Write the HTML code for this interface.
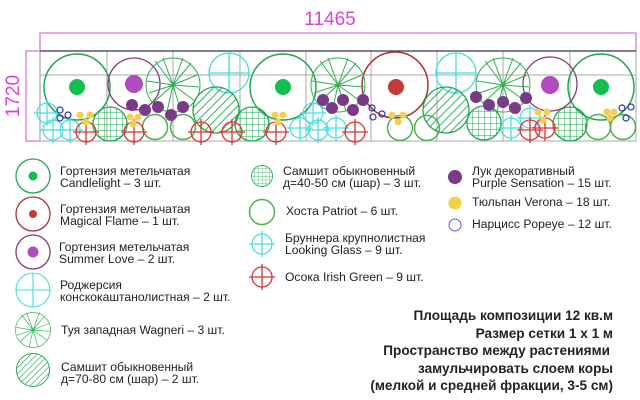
<!DOCTYPE html><html><head><meta charset="utf-8"><style>body{margin:0;background:#fff}svg{display:block}text{font-family:"Liberation Sans",sans-serif}</style></head><body>
<svg width="640" height="400" viewBox="0 0 640 400" xmlns="http://www.w3.org/2000/svg">
<defs>
<pattern id="h" width="6" height="6" patternUnits="userSpaceOnUse" patternTransform="rotate(45)"><line x1="0" y1="0" x2="0" y2="6" stroke="#1fa84f" stroke-width="1.8"/></pattern>
<pattern id="g" width="6" height="6" patternUnits="userSpaceOnUse"><path d="M0 0H6M0 0V6" stroke="#1fa84f" stroke-width="1" fill="none"/></pattern>
<g id="cl"><circle r="33" fill="none" stroke="#1fa84f" stroke-width="1.5"/><circle r="8" fill="#0fbf4f"/></g>
<g id="th" stroke="#2bb24c" stroke-width="1" fill="none"><circle r="27"/><path d="M0 0L-18-24M0 0L-10-27M0 0L10-27M0 0L18-22M0 0L-26 -4M0 0L26 2M0 0L-20 18M0 0L-6 27M0 0L8 26M0 0L22 16M0 0L-24 8M0 0L24 -10"/></g>
<g id="rg" stroke="#3fe0e0" stroke-width="1.3" fill="none"><circle r="20"/><path d="M-20 0H20M0-20V20"/></g>
<g id="bw"><circle r="23" fill="url(#h)" stroke="#1fa84f" stroke-width="1.3"/></g>
<g id="bg"><circle r="17" fill="url(#g)" stroke="#1fa84f" stroke-width="1.3"/></g>
<g id="br" stroke="#3fe0e0" stroke-width="1.2" fill="none"><circle r="10"/><path d="M-13 0H13M0-13V13"/></g>
<g id="os" stroke="#e03030" stroke-width="1.3" fill="none"><circle r="10"/><path d="M-13 0H13M0-13V13"/></g>
<g id="ho"><circle r="12.5" fill="none" stroke="#4cb34c" stroke-width="1.5"/></g>
<circle id="al" r="6" fill="#7a3a8a"/>
<circle id="tu" r="3.5" fill="#f4d04a"/>
<circle id="na" r="3" fill="none" stroke="#2233bb" stroke-width="1.2"/>
</defs>
<text x="330" y="25" font-size="19" fill="#e040d8" text-anchor="middle">11465</text>
<rect x="40" y="33" width="596" height="18" fill="none" stroke="#d66fd6" stroke-width="1.2"/>
<rect x="26" y="51" width="14" height="90" fill="none" stroke="#d66fd6" stroke-width="1.2"/>
<text transform="translate(19,96) rotate(-90)" font-size="19" fill="#e040d8" text-anchor="middle">1720</text>
<g stroke="#aaa" stroke-width="1" fill="none">
<rect x="40" y="51" width="596" height="90"/><path d="M40 75H636M107 51V141M173 51V141M240 51V141M306 51V141M371 51V141M437 51V141M503 51V141M570 51V141"/></g>
<line x1="40" y1="51" x2="636" y2="51" stroke="#444" stroke-width="1.3"/>
<use href="#cl" x="77" y="87"/><use href="#cl" x="283" y="87"/><use href="#cl" x="601" y="87"/>
<circle cx="395" cy="85" r="33" fill="none" stroke="#a33" stroke-width="1.5"/><circle cx="396" cy="87" r="8" fill="#c23a3a"/>
<circle cx="134" cy="84" r="26" fill="none" stroke="#8a3a7a" stroke-width="1.3"/><circle cx="134" cy="84" r="9" fill="#b04cc0"/>
<circle cx="550" cy="84" r="27" fill="none" stroke="#8a3a7a" stroke-width="1.3"/><circle cx="550" cy="85" r="9" fill="#b04cc0"/>
<use href="#th" x="173" y="85"/><use href="#th" x="338" y="85"/><use href="#th" x="503" y="85"/>
<use href="#rg" x="229" y="73"/><use href="#rg" x="456" y="73"/>
<use href="#bw" x="216" y="110"/><use href="#bw" x="446" y="110"/>
<use href="#bg" x="110" y="124"/><use href="#bg" x="252" y="124"/><use href="#bg" x="484" y="123"/><use href="#bg" x="570" y="124"/>
<use href="#ho" x="155" y="127"/><use href="#ho" x="183" y="127"/><use href="#ho" x="400" y="128"/><use href="#ho" x="427" y="128"/><use href="#ho" x="598" y="127"/><use href="#ho" x="623" y="127"/>
<use href="#br" x="47" y="113"/><use href="#br" x="53" y="130"/><use href="#br" x="70" y="130"/><use href="#br" x="313" y="113"/><use href="#br" x="318" y="130"/><use href="#br" x="336" y="128"/><use href="#br" x="511" y="128"/><use href="#br" x="300" y="128"/><use href="#br" x="530" y="118"/>
<use href="#al" x="132" y="105"/><use href="#al" x="145" y="110"/><use href="#al" x="158" y="107"/><use href="#al" x="171" y="115"/><use href="#al" x="183" y="107"/>
<use href="#al" x="323" y="100"/><use href="#al" x="332" y="108"/><use href="#al" x="343" y="100"/><use href="#al" x="353" y="110"/><use href="#al" x="363" y="100"/>
<use href="#al" x="476" y="97"/><use href="#al" x="489" y="105"/><use href="#al" x="503" y="102"/><use href="#al" x="515" y="108"/><use href="#al" x="526" y="98"/>
<use href="#os" x="86" y="132"/><use href="#os" x="134" y="132"/><use href="#os" x="201" y="132"/><use href="#os" x="232" y="132"/><use href="#os" x="276" y="132"/><use href="#os" x="355" y="132"/><use href="#os" x="530" y="130"/><use href="#os" x="545" y="128"/>
<use href="#tu" x="80" y="115"/><use href="#tu" x="90" y="115"/><use href="#tu" x="86" y="122"/><use href="#tu" x="130" y="117"/><use href="#tu" x="138" y="117"/><use href="#tu" x="133" y="124"/><use href="#tu" x="275" y="115"/><use href="#tu" x="283" y="115"/><use href="#tu" x="278" y="122"/><use href="#tu" x="392" y="115"/><use href="#tu" x="403" y="115"/><use href="#tu" x="398" y="122"/><use href="#tu" x="538" y="112"/><use href="#tu" x="547" y="112"/><use href="#tu" x="543" y="120"/><use href="#tu" x="607" y="112"/><use href="#tu" x="614" y="112"/><use href="#tu" x="610" y="118"/>
<use href="#na" x="60" y="110"/><use href="#na" x="60" y="118"/><use href="#na" x="68" y="115"/><use href="#na" x="372" y="108"/><use href="#na" x="373" y="117"/><use href="#na" x="382" y="114"/><use href="#na" x="622" y="108"/><use href="#na" x="631" y="107"/><use href="#na" x="626" y="118"/>
<circle cx="33" cy="176" r="17" fill="none" stroke="#1fa84f" stroke-width="1.3"/><circle cx="33" cy="176" r="4.5" fill="#0fbf4f"/>
<circle cx="33" cy="214" r="17" fill="none" stroke="#a33" stroke-width="1.3"/><circle cx="33" cy="214" r="4" fill="#c23a3a"/>
<circle cx="33" cy="252" r="17" fill="none" stroke="#8a3a7a" stroke-width="1.3"/><circle cx="33" cy="252" r="5.5" fill="#b04cc0"/>
<g transform="translate(33,290) scale(0.85)"><use href="#rg"/></g>
<g transform="translate(33,330) scale(0.65)"><use href="#th"/></g>
<g transform="translate(33,370) scale(0.72)"><use href="#bw"/></g>
<g font-size="12.1" fill="#222">
<text x="60" y="175">Гортензия метельчатая</text><text x="60" y="187">Candlelight – 3 шт.</text>
<text x="60" y="213">Гортензия метельчатая</text><text x="60" y="225">Magical Flame – 1 шт.</text>
<text x="59" y="251">Гортензия метельчатая</text><text x="59" y="263">Summer Love – 2 шт.</text>
<text x="60" y="289">Роджерсия</text><text x="60" y="301">конскокаштанолистная – 2 шт.</text>
<text x="61" y="334">Туя западная Wagneri – 3 шт.</text>
<text x="61" y="371">Самшит обыкновенный</text><text x="61" y="383">д=70-80 см (шар) – 2 шт.</text>
<text x="283" y="175">Самшит обыкновенный</text><text x="283" y="187">д=40-50 см (шар) – 3 шт.</text>
<text x="286" y="215">Хоста Patriot – 6 шт.</text>
<text x="285" y="242">Бруннера крупнолистная</text><text x="285" y="254">Looking Glass – 9 шт.</text>
<text x="285" y="281">Осока Irish Green – 9 шт.</text>
<text x="472" y="175">Лук декоративный</text><text x="472" y="187">Purple Sensation – 15 шт.</text>
<text x="472" y="206">Тюльпан Verona – 18 шт.</text>
<text x="472" y="228">Нарцисс Popeye – 12 шт.</text>
</g>
<g transform="translate(262,176) scale(0.62)"><use href="#bg"/></g>
<circle cx="262" cy="212" r="12.5" fill="none" stroke="#4cb34c" stroke-width="1.5"/>
<use href="#br" x="262" y="244"/>
<use href="#os" x="262" y="277"/>
<circle cx="455" cy="177" r="7" fill="#7a3a8a"/>
<circle cx="455" cy="203" r="6.5" fill="#f4d04a"/>
<circle cx="455" cy="225" r="6" fill="none" stroke="#6655dd" stroke-width="1"/>
<g font-size="13.6" font-weight="bold" fill="#222" text-anchor="end">
<text x="613" y="320">Площадь композиции 12 кв.м</text>
<text x="613" y="338">Размер сетки 1 х 1 м</text>
<text x="610" y="355">Пространство между растениями</text>
<text x="613" y="373">замульчировать слоем коры</text>
<text x="613" y="390">(мелкой и средней фракции, 3-5 см)</text>
</g>
</svg></body></html>
